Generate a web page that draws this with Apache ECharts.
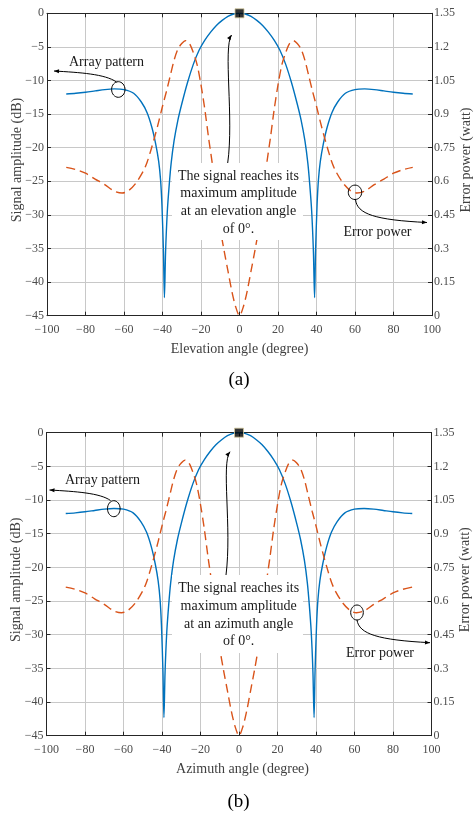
<!DOCTYPE html>
<html>
<head>
<meta charset="utf-8">
<script src="https://cdn.jsdelivr.net/npm/echarts@6/dist/echarts.min.js"></script>
<style>
html,body{margin:0;padding:0;background:#fff;}
#chart{width:474px;height:816px;}
</style>
</head>
<body>
<div id="chart"></div>
<script>
// ---- data ----
const patternAngle = [-90,-85,-80,-75,-70,-65,-60,-55,-51,-48,-45.5,-43.5,-42,-41,-40.3,-39.5,-39,-38.4,-37.5,-36.5,-35.5,-34,-32,-30,-27,-24,-21,-18,-15,-12,-9,-6,-3,0,
  3,6,9,12,15,18,21,24,27,30,32,34,35.5,36.5,37.5,38.4,39,39.5,40.3,41,42,43.5,45.5,48,51,55,60,65,70,75,80,85,90];
const patternDb = [-12.0,-11.9,-11.75,-11.55,-11.35,-11.25,-11.35,-11.9,-13.2,-14.8,-17.0,-19.5,-22.0,-24.8,-28.5,-35.5,-42.3,-35.5,-29.5,-25.5,-22.3,-19.0,-15.9,-13.5,-10.3,-7.6,-5.5,-4.0,-2.8,-1.8,-1.05,-0.45,-0.1,0,
  -0.1,-0.45,-1.05,-1.8,-2.8,-4.0,-5.5,-7.6,-10.3,-13.5,-15.9,-19.0,-22.3,-25.5,-29.5,-35.5,-42.3,-35.5,-28.5,-24.8,-22.0,-19.5,-17.0,-14.8,-13.2,-11.9,-11.35,-11.25,-11.35,-11.55,-11.75,-11.9,-12.0];

const errorAngle = [-90,-85,-80,-75,-70,-65,-61,-58,-54,-50,-48,-46,-44,-42,-40,-38,-36,-34,-32,-30,-28,-26,-24,-22,-20,-18,-16,-14,-12,-10,-8,-6,-4,-2,0,
  2,4,6,8,10,12,14,16,18,20,22,24,26,28,30,32,34,36,38,40,42,44,46,48,50,54,58,61,65,70,75,80,85,90];
const errorPower = [0.662,0.652,0.636,0.61,0.585,0.556,0.548,0.556,0.59,0.645,0.685,0.74,0.80,0.865,0.935,1.0,1.07,1.14,1.19,1.215,1.228,1.215,1.175,1.12,1.03,0.92,0.79,0.67,0.52,0.39,0.29,0.2,0.11,0.04,0.0,
  0.04,0.11,0.2,0.29,0.39,0.52,0.67,0.79,0.92,1.03,1.12,1.175,1.215,1.228,1.215,1.19,1.14,1.07,1.0,0.935,0.865,0.80,0.74,0.685,0.645,0.59,0.556,0.548,0.556,0.585,0.61,0.636,0.652,0.662];

const peakAngle = [0];
const peakDb = [0];

const xTicks = {min:-100, max:100, interval:20};
const leftTicks = {min:-45, max:0, interval:5};
const rightTicks = {min:0, max:1.35, interval:0.15};

const panelXTitles = ['Elevation angle (degree)', 'Azimuth angle (degree)'];
const panelTags = ['(a)', '(b)'];
const boxTexts = [
  'The signal reaches its\nmaximum amplitude\nat an elevation angle\nof 0°.',
  'The signal reaches its\nmaximum amplitude\nat an azimuth angle\nof 0°.'
];
const leftTitle = 'Signal amplitude (dB)';
const rightTitle = 'Error power (watt)';
const labelArray = 'Array pattern';
const labelError = 'Error power';

// ---- chart ----
const FONT = '"Liberation Serif", "Times New Roman", serif';
const AX = '#262626';
const TICKC = '#4d4d4d';
const GRIDC = '#c8c8c8';
const BLUE = '#0072BD';
const RED = '#D95319';

const pattern = patternAngle.map((a, i) => [a, patternDb[i]]);
const error = errorAngle.map((a, i) => [a, errorPower[i]]);
const peak = peakAngle.map((a, i) => [a, peakDb[i]]);

const minus = v => String(v).replace('-', '\u2212');

const grids = [
  {left: 47, top: 13.3, width: 385, height: 302.4, containLabel: false, outerBoundsMode: 'none'},
  {left: 46.5, top: 432.7, width: 385, height: 303, containLabel: false, outerBoundsMode: 'none'}
];

function bottomX(g) {
  return {
    gridIndex: g, type: 'value', position: 'bottom', ...xTicks,
    axisLine: {show: true, onZero: false, lineStyle: {color: AX, width: 1}},
    axisTick: {show: true, inside: true, length: 4, lineStyle: {color: AX}},
    axisLabel: {color: TICKC, fontFamily: FONT, fontSize: 12, margin: 8, formatter: minus},
    splitLine: {show: true, lineStyle: {color: GRIDC, width: 1}},
    name: panelXTitles[g], nameLocation: 'middle', nameGap: 27, nameMoveOverlap: false,
    nameTextStyle: {color: '#404040', fontFamily: FONT, fontSize: 14, padding: g === 1 ? [0,0,0,7] : 0}
  };
}
function topX(g) {
  return {
    gridIndex: g, type: 'value', position: 'top', ...xTicks,
    axisLine: {show: true, onZero: false, lineStyle: {color: AX, width: 1}},
    axisTick: {show: true, inside: true, length: 4, lineStyle: {color: AX}},
    axisLabel: {show: false}, splitLine: {show: false}
  };
}
function leftY(g) {
  return {
    gridIndex: g, type: 'value', position: 'left', ...leftTicks,
    axisLine: {show: true, onZero: false, lineStyle: {color: AX, width: 1}},
    axisTick: {show: true, inside: true, length: 4, lineStyle: {color: AX}},
    axisLabel: {color: TICKC, fontFamily: FONT, fontSize: 12, margin: 3, formatter: minus},
    splitLine: {show: true, lineStyle: {color: GRIDC, width: 1}},
    name: leftTitle, nameLocation: 'middle', nameGap: 23, nameMoveOverlap: false,
    nameTextStyle: {color: '#404040', fontFamily: FONT, fontSize: 14, padding: [0,0,0,9]}
  };
}
function rightY(g) {
  return {
    gridIndex: g, type: 'value', position: 'right', ...rightTicks,
    axisLine: {show: true, onZero: false, lineStyle: {color: AX, width: 1}},
    axisTick: {show: true, inside: true, length: 4, lineStyle: {color: AX}},
    axisLabel: {color: TICKC, fontFamily: FONT, fontSize: 12, margin: 2,
      formatter: v => String(Math.round(v * 100) / 100)},
    splitLine: {show: false},
    name: rightTitle, nameLocation: 'middle', nameGap: 27, nameMoveOverlap: false,
    nameTextStyle: {color: '#404040', fontFamily: FONT, fontSize: 14, padding: [0,0,0,9]}
  };
}

const series = [];
[0, 1].forEach(g => {
  series.push({
    type: 'line', xAxisIndex: g, yAxisIndex: g * 2, data: pattern,
    showSymbol: false, smooth: 0.3, lineStyle: {color: BLUE, width: 1.4}, z: 3
  });
  series.push({
    type: 'line', xAxisIndex: g, yAxisIndex: g * 2 + 1, data: error,
    showSymbol: false, smooth: 0.3, lineStyle: {color: RED, width: 1.4, type: [9, 5]}, z: 3
  });
  series.push({
    type: 'scatter', xAxisIndex: g, yAxisIndex: g * 2, data: peak, clip: false,
    symbol: 'rect', symbolSize: 9,
    itemStyle: {color: '#000', borderColor: '#cfc49a', borderWidth: 1}, z: 10
  });
});

// ---- annotations ----
function txt(x, y, text, size, color, lh) {
  const st = {text: text, x: x, y: y, fontFamily: FONT, fontSize: size, fill: color,
    align: 'center', verticalAlign: 'middle', textAlign: 'center', textVerticalAlign: 'middle'};
  if (lh) st.lineHeight = lh;
  return {type: 'text', z: 120, style: st};
}
function ell(cx, cy, rx, ry) {
  return {type: 'ellipse', z: 120, shape: {cx, cy, rx, ry}, style: {fill: null, stroke: '#000', lineWidth: 1}};
}
function curve(p) {
  return {type: 'bezierCurve', z: 120,
    shape: {x1: p[0], y1: p[1], cpx1: p[2], cpy1: p[3], cpx2: p[4], cpy2: p[5], x2: p[6], y2: p[7]},
    style: {fill: null, stroke: '#000', lineWidth: 1}};
}
function head(tx, ty, fx, fy) {
  const dx = tx - fx, dy = ty - fy, L = Math.hypot(dx, dy);
  const ux = dx / L, uy = dy / L, len = 5, w = 2;
  const bx = tx - ux * len, by = ty - uy * len;
  return {type: 'polygon', z: 121,
    shape: {points: [[tx, ty], [bx - uy * w, by + ux * w], [bx + uy * w, by - ux * w]]},
    style: {fill: '#000', stroke: null}};
}
function arrow(p) { return [curve(p), head(p[6], p[7], p[4], p[5])]; }

const ann = [
  { // panel a
    arrLabel: [106.5, 62], arrEll: [118.3, 89.5, 6.7, 7.8], arrCurve: [116.5, 82, 105, 74, 80, 72.5, 54, 71],
    bigCurve: [227.7, 163, 234, 118, 223, 48, 231.5, 35],
    box: [172, 163, 131, 77], boxText: [238.5, 202.5],
    errEll: [355, 192.3, 6.7, 7.2], errCurve: [355.5, 199.5, 357, 214, 375, 220, 427, 222.5], errLabel: [377.5, 232]
  },
  { // panel b
    arrLabel: [102.5, 480], arrEll: [113.8, 508.7, 6.3, 8], arrCurve: [110.5, 500.5, 100, 493, 76, 491.5, 49.5, 490],
    bigCurve: [226, 575, 232, 528, 221, 463, 230, 451.7],
    box: [172, 575, 131, 78], boxText: [238.7, 615],
    errEll: [357, 612.5, 6.3, 7.5], errCurve: [357, 620, 359, 634, 378, 640, 430, 642.7], errLabel: [380, 653.3]
  }
];

const graphic = [];
ann.forEach((a, i) => {
  graphic.push({type: 'rect', z: 110, shape: {x: a.box[0], y: a.box[1], width: a.box[2], height: a.box[3]},
    style: {fill: '#fff', stroke: null}});
  graphic.push(txt(a.boxText[0], a.boxText[1], boxTexts[i], 14, '#1a1a1a', 17.7));
  graphic.push(txt(a.arrLabel[0], a.arrLabel[1], labelArray, 14, '#1a1a1a'));
  graphic.push(ell(...a.arrEll));
  graphic.push(...arrow(a.arrCurve));
  graphic.push(...arrow(a.bigCurve));
  graphic.push(ell(...a.errEll));
  graphic.push(...arrow(a.errCurve));
  graphic.push(txt(a.errLabel[0], a.errLabel[1], labelError, 14, '#1a1a1a'));
});
graphic.push(txt(239, 380, panelTags[0], 19, '#000'));
graphic.push(txt(238.5, 802, panelTags[1], 19, '#000'));

const chart = echarts.init(document.getElementById('chart'), null, {renderer: 'canvas'});
chart.setOption({
  animation: false,
  backgroundColor: '#fff',
  grid: grids,
  xAxis: [bottomX(0), bottomX(1), topX(0), topX(1)],
  yAxis: [leftY(0), rightY(0), leftY(1), rightY(1)],
  series: series,
  graphic: graphic
});
</script>
</body>
</html>
